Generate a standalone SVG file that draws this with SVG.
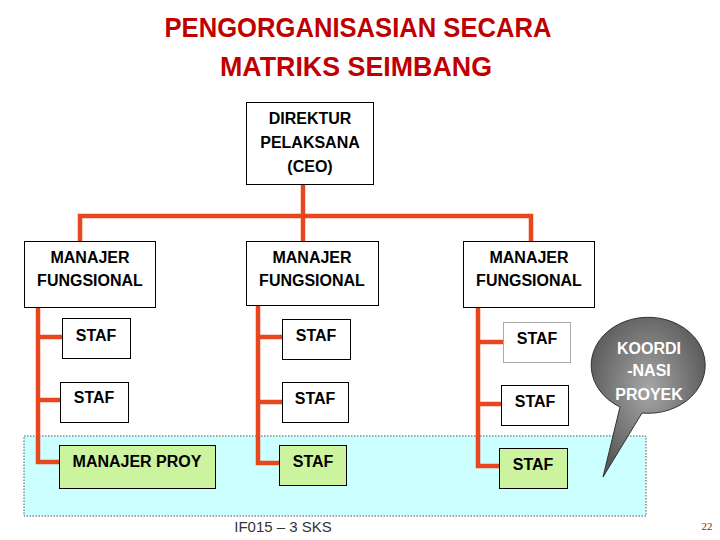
<svg xmlns="http://www.w3.org/2000/svg" width="720" height="540" viewBox="0 0 720 540">
<defs>
<radialGradient id="bubble" cx="50%" cy="45%" r="55%">
<stop offset="0" stop-color="#a6a6a6"/>
<stop offset="1" stop-color="#5a5a5a"/>
</radialGradient>
</defs>
<style>
.t{font-family:"Liberation Sans",Arial,sans-serif;font-weight:bold;font-size:16px;fill:#000;text-anchor:middle}
.box{fill:#fff;stroke:#000;stroke-width:1}
.g{fill:#ccf39e;stroke:#000;stroke-width:1}
.c{fill:none;stroke:#e8461c;stroke-width:4.5;stroke-linejoin:miter;stroke-linecap:butt}
.title{font-family:"Liberation Sans",Arial,sans-serif;font-weight:bold;font-size:28px;fill:#c00000;text-anchor:middle}
</style>
<rect width="720" height="540" fill="#fff"/>
<text class="title" x="358" y="37" textLength="387" lengthAdjust="spacingAndGlyphs">PENGORGANISASIAN SECARA</text>
<text class="title" x="356" y="76" textLength="272" lengthAdjust="spacingAndGlyphs">MATRIKS SEIMBANG</text>

<rect id="project-band" x="24" y="436" width="622" height="80" fill="#ccffff" stroke="#555" stroke-width="1" stroke-dasharray="1.5,1.5"/>

<g id="connectors">
<path class="c" d="M303,184 V241"/>
<path class="c" d="M80,241 V216 H531 V241"/>
<path class="c" d="M38,307 V462 H59"/>
<path class="c" d="M38,337 H62 M38,400 H60"/>
<path class="c" d="M258,305 V463 H279"/>
<path class="c" d="M258,337 H282 M258,402 H282"/>
<path class="c" d="M478,307 V466 H499"/>
<path class="c" d="M478,342 H503 M478,404 H501"/>
</g>

<g id="ceo">
<rect class="box" x="246.5" y="102.5" width="127" height="82"/>
<text class="t" x="310" y="124">DIREKTUR</text>
<text class="t" x="310" y="148">PELAKSANA</text>
<text class="t" x="310" y="172">(CEO)</text>
</g>

<g id="mf1">
<rect class="box" x="24.5" y="241.5" width="131" height="66"/>
<text class="t" x="90" y="263">MANAJER</text>
<text class="t" x="90" y="286">FUNGSIONAL</text>
</g>
<g id="mf2">
<rect class="box" x="246.5" y="241.5" width="132" height="64"/>
<text class="t" x="312" y="263">MANAJER</text>
<text class="t" x="312" y="286">FUNGSIONAL</text>
</g>
<g id="mf3">
<rect class="box" x="463.5" y="241.5" width="131" height="66"/>
<text class="t" x="529" y="263">MANAJER</text>
<text class="t" x="529" y="286">FUNGSIONAL</text>
</g>

<g id="staf-1-1">
<rect class="box" x="62.5" y="318.5" width="68" height="40"/>
<text class="t" x="96" y="341">STAF</text>
</g>
<g id="staf-2-1">
<rect class="box" x="282.5" y="319.5" width="68" height="40"/>
<text class="t" x="316" y="341">STAF</text>
</g>
<g id="staf-3-1">
<rect x="503.5" y="322.5" width="67" height="40" fill="#fff" stroke="#aaa" stroke-width="1"/>
<text class="t" x="537" y="344">STAF</text>
</g>

<g id="staf-1-2">
<rect class="box" x="60.5" y="382.5" width="68" height="40"/>
<text class="t" x="94" y="403">STAF</text>
</g>
<g id="staf-2-2">
<rect class="box" x="282.5" y="382.5" width="66" height="40"/>
<text class="t" x="315" y="404">STAF</text>
</g>
<g id="staf-3-2">
<rect class="box" x="501.5" y="385.5" width="67" height="40"/>
<text class="t" x="535" y="407">STAF</text>
</g>

<g id="manajer-proy">
<rect class="g" x="59.5" y="445.5" width="156" height="43"/>
<text class="t" x="137" y="467">MANAJER PROY</text>
</g>
<g id="staf-2-3">
<rect class="g" x="279.5" y="445.5" width="67" height="40"/>
<text class="t" x="313" y="467">STAF</text>
</g>
<g id="staf-3-3">
<rect class="g" x="499.5" y="448.5" width="68" height="40"/>
<text class="t" x="533" y="470">STAF</text>
</g>

<g id="koordinasi">
<path d="M620,407 A57,48 0 1 1 642,413 L603,477 Z" fill="url(#bubble)" stroke="#333" stroke-width="1"/>
<text class="t" x="649" y="354" style="fill:#fff">KOORDI</text>
<text class="t" x="649" y="376" style="fill:#fff">-NASI</text>
<text class="t" x="649" y="400" style="fill:#fff">PROYEK</text>
</g>

<text x="283" y="532" font-family="Liberation Sans,Arial,sans-serif" font-size="15" fill="#333" text-anchor="middle">IF015 – 3 SKS</text>
<text x="707" y="530" font-family="Liberation Serif,serif" font-size="11" fill="#8b1a1a" text-anchor="middle">22</text>
</svg>
